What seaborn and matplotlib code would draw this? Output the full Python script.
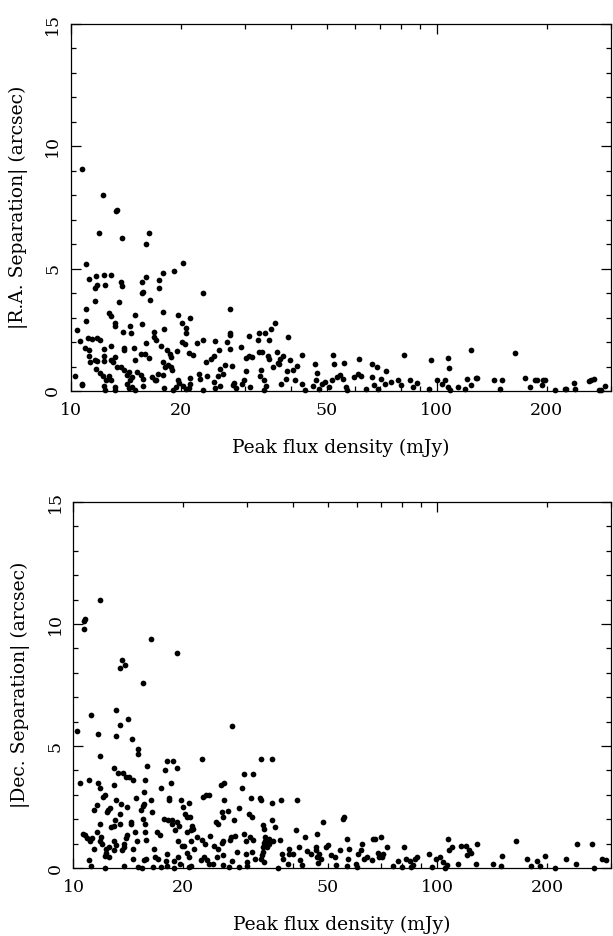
import matplotlib
matplotlib.use("Agg")
import matplotlib.pyplot as plt
import seaborn as sns
import pandas as pd
from matplotlib.ticker import FixedLocator, FuncFormatter

# |R.A. separation| vs peak flux (top panel)
ra_flux = [10.74, 12.2, 13.4, 13.3, 11.9, 13.8, 16.3, 16.0, 20.2, 11.0, 11.2, 11.7, 12.3, 12.9, 11.8, 11.65,
           12.4, 13.7, 13.8, 16.0, 15.6, 15.6, 15.7, 16.4, 17.4, 17.4, 17.9, 19.1, 11.6, 13.5, 22.9, 17.8,
           11.0, 12.7, 12.9, 13.2, 13.2, 15.0, 19.6, 21.2, 27.3, 11.0, 10.4, 15.65, 14.5, 13.9, 14.6, 16.9,
           18.0, 20.7, 20.1, 20.6, 20.5, 20.1, 16.9, 17.1, 16.0, 23.0, 24.7, 22.1, 26.8, 27.2, 27.2, 32.4,
           32.6, 33.9, 34.9, 35.3, 36.1, 39.2, 30.7, 10.6, 11.1, 11.45, 11.8, 12.0, 10.9, 11.2, 12.3, 12.9,
           14.0, 14.0, 14.9, 15.5, 15.9, 16.3, 17.6, 18.3, 18.6, 18.8, 19.5, 21.0, 21.5, 23.4, 24.1, 24.6,
           25.4, 27.2, 29.1, 30.1, 30.7, 31.3, 32.6, 33.3, 34.9, 34.6, 36.5, 37.2, 37.9, 36.8, 39.8, 42.8,
           52.2, 61.2, 55.8, 66.5, 81.5, 96.5, 108.0, 124.0, 163.7, 68.7, 72.9, 52.5, 46.4, 47.2, 41.6, 40.5,
           38.9, 37.1, 38.8, 35.8, 33.0, 32.8, 33.7, 30.1, 29.8, 29.4, 28.0, 27.6, 26.3, 25.6, 25.3, 26.0,
           24.6, 23.6, 22.6, 22.4, 21.2, 21.1, 21.0, 20.3, 19.7, 19.6, 18.9, 18.8, 18.4, 17.9, 18.1, 17.8,
           17.3, 17.0, 16.7, 15.7, 15.5, 15.2, 15.0, 14.7, 14.5, 14.2, 14.4, 13.95, 13.7, 13.4, 13.0, 13.2,
           12.9, 12.3, 12.3, 11.8, 11.7, 12.0, 12.2, 12.5, 12.7, 12.9, 11.2, 11.25, 11.65, 10.25, 10.7, 10.75,
           12.3, 12.4, 13.2, 13.2, 14.2, 14.4, 14.7, 15.0, 15.7, 17.1, 18.0, 19.0, 19.4, 20.6, 23.0, 24.7,
           25.6, 27.7, 28.3, 30.9, 33.7, 34.1, 37.6, 41.1, 42.8, 43.8, 45.8, 46.8, 47.6, 48.5, 49.4, 50.7,
           51.9, 53.3, 54.3, 55.6, 56.6, 57.0, 59.4, 60.9, 62.1, 64.2, 67.4, 66.5, 69.3, 70.6, 72.3, 75.1,
           78.4, 79.8, 84.8, 86.0, 88.3, 95.2, 100.5, 103.5, 105.5, 107.4, 108.7, 114.2, 119.3, 121.3, 124.4, 129.1,
           143.5, 149.3, 150.8, 174.3, 179.8, 187.8, 194.2, 197.8, 210.3, 225.6, 238.0, 239.1, 264.2, 269.6, 282.5, 289.5,
           107.4, 128.0, 186.0, 195.0, 224.0, 261.0, 278.0]
ra_sep = [9.06, 8.02, 7.40, 7.35, 6.44, 6.24, 6.44, 6.0, 5.21, 5.19, 4.56, 4.69, 4.72, 4.72, 4.33, 4.22,
          4.33, 4.46, 4.29, 4.67, 4.45, 3.99, 4.05, 3.71, 4.53, 4.20, 4.83, 4.91, 3.67, 3.63, 3.99, 3.23,
          3.33, 3.19, 3.06, 2.78, 2.65, 3.10, 3.10, 2.99, 3.33, 2.87, 2.51, 2.73, 2.65, 2.42, 2.37, 2.42,
          2.55, 2.59, 2.78, 2.37, 1.94, 2.01, 2.21, 2.07, 1.97, 2.07, 2.05, 1.97, 2.01, 2.28, 2.35, 2.07,
          2.37, 2.35, 2.07, 2.54, 2.76, 2.21, 2.24, 2.03, 2.18, 2.14, 2.18, 2.07, 1.77, 1.67, 1.73, 1.83,
          1.76, 1.67, 1.77, 1.53, 1.50, 1.36, 1.83, 1.67, 1.53, 1.39, 1.64, 1.56, 1.46, 1.19, 1.32, 1.42,
          1.69, 1.73, 1.80, 1.36, 1.42, 1.39, 1.60, 1.60, 1.32, 1.42, 1.60, 1.32, 1.42, 1.15, 1.28, 1.46,
          1.46, 1.32, 1.15, 1.09, 1.46, 1.28, 0.93, 1.69, 1.56, 0.96, 0.82, 1.12, 1.12, 0.74, 1.01, 0.87,
          0.82, 1.12, 0.50, 0.98, 0.85, 0.60, 0.44, 0.82, 0.44, 0.30, 0.33, 1.01, 1.05, 0.91, 0.60, 0.71,
          0.37, 0.60, 0.50, 0.71, 0.55, 0.30, 0.14, 0.19, 0.33, 0.44, 0.85, 0.98, 1.05, 1.19, 0.98, 0.64,
          0.71, 0.44, 0.57, 0.50, 0.64, 0.78, 1.26, 0.57, 0.44, 0.64, 0.78, 0.85, 0.98, 0.98, 1.19, 1.39,
          1.28, 1.23, 1.42, 1.23, 0.91, 0.74, 0.60, 0.44, 0.60, 0.44, 1.42, 1.19, 1.28, 0.60, 0.30, 0.23,
          0.19, 0.03, 0.16, 0.05, 0.30, 0.14, 0.16, 0.05, 0.19, 0.44, 0.14, 0.05, 0.16, 0.10, 0.05, 0.14,
          0.19, 0.23, 0.14, 0.16, 0.05, 0.19, 0.30, 0.44, 0.30, 0.05, 0.19, 0.44, 0.10, 0.27, 0.37, 0.16,
          0.44, 0.57, 0.64, 0.50, 0.16, 0.05, 0.57, 0.71, 0.60, 0.10, 0.23, 0.57, 0.10, 0.50, 0.30, 0.37,
          0.46, 0.23, 0.44, 0.16, 0.33, 0.10, 0.44, 0.30, 0.44, 0.16, 0.05, 0.16, 0.10, 0.50, 0.23, 0.55,
          0.44, 0.10, 0.44, 0.55, 0.16, 0.44, 0.23, 0.44, 0.05, 0.10, 0.33, 0.10, 0.44, 0.50, 0.03, 0.19,
          1.34, 0.52, 0.45, 0.45, 0.10, 0.40, 0.04]

# |Dec. separation| vs peak flux (bottom panel)
dec_flux = [10.2, 10.45, 10.7, 10.77, 10.7, 11.86, 11.2, 11.7, 11.8, 11.0, 11.65, 11.85, 12.06, 12.2, 11.6, 11.4,
            12.45, 12.35, 12.6, 11.8, 11.6, 11.9, 11.85, 12.0, 10.6, 10.77, 10.9, 11.1, 11.25, 11.4, 11.0, 11.2,
            12.2, 12.3, 12.25, 12.2, 12.5, 12.55, 12.7, 12.95, 12.95, 12.95, 13.1, 13.0, 13.1, 13.1, 12.95, 12.95,
            13.25, 13.4, 13.1, 13.4, 13.6, 13.85, 13.45, 14.1, 13.7, 13.9, 14.2, 14.55, 14.45, 15.0, 15.0, 14.85,
            13.5, 14.0, 13.4, 14.35, 14.4, 13.75, 13.8, 13.6, 14.05, 13.9, 14.55, 14.6, 14.8, 14.9, 15.3, 15.5,
            15.6, 15.5, 15.6, 15.7, 15.9, 16.3, 15.55, 15.7, 15.75, 15.85, 15.8, 15.6, 15.4, 15.0, 13.8, 16.35,
            16.4, 16.6, 16.8, 16.5, 17.0, 17.3, 17.4, 17.45, 17.1, 17.8, 18.1, 18.75, 18.5, 18.3, 18.3, 17.75,
            18.2, 18.6, 18.7, 18.1, 17.9, 18.05, 18.9, 18.9, 19.2, 19.3, 19.0, 19.3, 19.5, 19.4, 19.4, 19.6,
            19.8, 20.05, 20.3, 19.85, 20.1, 20.55, 20.5, 20.8, 20.9, 21.0, 21.1, 21.2, 21.35, 21.5, 20.5, 20.75,
            20.8, 21.1, 21.9, 22.6, 22.7, 23.1, 23.5, 22.6, 23.0, 23.3, 22.4, 22.8, 23.5, 24.1, 23.7, 24.3,
            24.6, 24.9, 24.9, 24.75, 25.4, 26.0, 26.0, 25.6, 25.8, 25.7, 25.6, 25.7, 25.8, 26.6, 26.8, 26.95,
            27.1, 27.2, 27.3, 27.6, 27.8, 28.1, 28.5, 28.5, 29.0, 29.5, 29.4, 29.8, 29.8, 30.0, 30.0, 30.4,
            30.8, 30.9, 30.5, 31.1, 31.0, 31.1, 31.5, 32.5, 32.8, 32.8, 33.1, 33.4, 33.6, 33.7, 33.4, 33.1,
            33.2, 33.0, 32.8, 33.4, 34.1, 34.4, 34.5, 35.1, 35.1, 35.2, 35.4, 35.8, 36.5, 37.0, 37.2, 37.4,
            37.6, 38.9, 39.0, 39.2, 40.0, 41.1, 40.9, 41.6, 41.9, 42.4, 43.2, 43.9, 44.9, 46.7, 46.5, 46.3,
            46.7, 47.3, 47.0, 47.9, 48.6, 49.5, 49.9, 51.0, 52.2, 52.8, 54.1, 55.0, 55.3, 56.4, 56.4, 57.2,
            56.9, 59.9, 60.3, 60.7, 61.5, 62.2, 62.7, 64.0, 66.0, 66.6, 67.3, 68.6, 69.0, 69.9, 70.4, 71.1,
            72.9, 75.3, 77.8, 80.0, 81.0, 81.9, 84.0, 84.9, 85.6, 86.6, 87.7, 95.0, 96.9, 99.3, 101.7, 103.5,
            104.7, 106.0, 106.8, 107.3, 109.4, 114.1, 116.3, 119.7, 120.6, 121.8, 124.1, 127.8, 128.8, 141.9, 149.5, 150.1,
            164.4, 176.6, 180.7, 187.3, 192.0, 197.7, 210.4, 225.4, 239.9, 241.6, 265.4, 270.0, 282.7, 290.8]
dec_sep = [5.60, 3.50, 10.12, 10.19, 9.80, 11.0, 6.28, 5.49, 4.59, 3.59, 3.50, 3.29, 2.91, 2.98, 2.60, 2.39,
           2.36, 2.30, 2.46, 1.79, 1.48, 1.27, 1.11, 0.97, 1.41, 1.34, 1.24, 1.11, 1.22, 0.79, 0.31, 0.07,
           0.0, 0.79, 0.61, 0.48, 0.45, 0.86, 1.68, 1.71, 1.11, 0.72, 0.93, 1.95, 6.49, 5.40, 4.10, 3.40,
           3.89, 2.20, 2.77, 8.21, 8.51, 8.31, 5.87, 6.09, 3.89, 3.73, 3.73, 3.59, 5.30, 4.89, 4.69, 2.87,
           2.61, 2.50, 1.82, 1.89, 1.82, 1.0, 0.86, 0.72, 1.34, 1.24, 0.79, 0.38, 1.48, 1.11, 2.39, 2.53,
           2.64, 7.60, 3.11, 3.59, 4.18, 9.40, 2.02, 1.48, 1.82, 1.13, 0.38, 0.31, 0.0, 0.04, 0.07, 2.77,
           2.30, 0.79, 0.45, 0.04, 1.48, 1.34, 3.29, 0.04, 0.38, 4.00, 4.39, 4.39, 3.50, 2.88, 2.77, 2.02,
           1.95, 1.95, 1.79, 0.59, 0.29, 0.07, 0.29, 0.0, 8.81, 4.10, 1.54, 1.89, 1.71, 1.11, 0.45, 0.18,
           2.80, 2.50, 2.20, 0.89, 0.89, 2.09, 1.48, 2.68, 2.09, 1.11, 1.54, 1.71, 1.61, 0.79, 0.61, 0.45,
           0.04, 0.07, 1.27, 4.48, 2.91, 2.98, 2.98, 1.13, 0.97, 0.31, 0.31, 0.45, 0.18, 0.18, 1.30, 0.89,
           1.89, 1.79, 0.79, 0.45, 3.39, 3.50, 2.80, 2.30, 2.09, 1.11, 1.02, 0.52, 0.11, 2.34, 0.04, 1.16,
           1.27, 5.81, 0.29, 1.98, 1.30, 0.66, 2.47, 0.04, 3.29, 3.87, 1.41, 1.11, 0.59, 0.07, 0.25, 2.23,
           2.88, 2.09, 1.27, 3.87, 0.66, 1.13, 0.38, 2.88, 4.48, 2.80, 1.75, 1.61, 1.27, 1.11, 1.02, 0.86,
           0.66, 0.52, 0.38, 0.25, 0.86, 1.20, 1.0, 4.48, 2.68, 1.98, 1.11, 1.68, 0.01, 1.16, 2.77, 0.59,
           0.38, 0.18, 0.59, 0.79, 0.59, 2.77, 1.57, 0.86, 0.31, 0.11, 1.27, 0.70, 0.59, 1.38, 0.86, 0.72,
           0.45, 0.59, 0.20, 0.38, 1.89, 0.86, 0.93, 0.52, 0.45, 0.11, 0.72, 2.02, 2.09, 0.07, 1.20, 0.79,
           0.38, 0.18, 0.04, 0.59, 0.72, 1.0, 0.38, 0.45, 0.34, 1.20, 1.20, 0.61, 0.45, 1.27, 0.45, 0.59,
           0.86, 0.07, 0.29, 0.04, 0.86, 0.38, 0.29, 0.04, 0.11, 0.38, 0.45, 0.59, 0.04, 0.38, 0.45, 0.25,
           0.0, 0.11, 1.20, 0.72, 0.86, 0.15, 0.89, 0.89, 0.52, 0.72, 0.61, 0.18, 1.0, 0.18, 0.07, 0.48,
           1.11, 0.38, 0.07, 0.29, 0.07, 0.48, 0.0, 0.38, 0.18, 1.0, 1.0, 0.0, 0.38, 0.31]

xlabel_text = "Peak flux density (mJy)"
ylabels = ["|R.A. Separation| (arcsec)", "|Dec. Separation| (arcsec)"]
x_labelled = [10, 20, 50, 100, 200]

sns.set_theme(style="ticks")
plt.rcParams['font.family'] = ['DejaVu Serif']
plt.rcParams['text.color'] = 'black'
plt.rcParams['axes.labelcolor'] = 'black'
plt.rcParams['xtick.color'] = 'black'
plt.rcParams['ytick.color'] = 'black'

fig = plt.figure(figsize=(6.13, 9.36), dpi=100)
ax_top = fig.add_axes([0.1158, 0.5823, 0.8809, 0.3921])
ax_bot = fig.add_axes([0.1199, 0.0726, 0.8768, 0.3910])

panels = [(ax_top, ra_flux, ra_sep, ylabels[0]), (ax_bot, dec_flux, dec_sep, ylabels[1])]
for ax, fx, sep, ylab in panels:
    df = pd.DataFrame({"flux": fx, "sep": sep})
    sns.scatterplot(data=df, x="flux", y="sep", ax=ax, color="black", s=17, linewidth=0, clip_on=False)
    ax.set_xscale("log")
    ax.set_xlim(10, 300)
    ax.set_ylim(0, 15)

    # decade ticks long, the rest short; labels on 10,20,50,100,200
    ax.xaxis.set_major_locator(FixedLocator([10, 100]))
    ax.xaxis.set_minor_locator(FixedLocator([20, 30, 40, 50, 60, 70, 80, 90, 200, 300]))
    fmt = FuncFormatter(lambda v, p: f"{v:g}" if round(v) in x_labelled else "")
    ax.xaxis.set_major_formatter(fmt)
    ax.xaxis.set_minor_formatter(fmt)
    ax.yaxis.set_major_locator(FixedLocator([0, 5, 10, 15]))
    ax.yaxis.set_minor_locator(FixedLocator(list(range(16))))

    ax.tick_params(which="both", direction="in", top=True, right=True, color="black", width=0.9,
                   labelcolor="black")
    ax.tick_params(which="major", length=7)
    ax.tick_params(which="minor", length=3.5)
    ax.tick_params(axis="x", which="both", pad=8, labelsize=12.5)
    ax.tick_params(axis="y", which="both", pad=7, labelsize=12.5)
    for lab in ax.get_yticklabels():
        lab.set_rotation(90)
        lab.set_va("center")

    for sp in ax.spines.values():
        sp.set_color("black")
        sp.set_linewidth(0.9)

    ax.set_xlabel(xlabel_text, fontsize=13.5, labelpad=14, color="black")
    ax.set_ylabel(ylab, fontsize=13.5, labelpad=12, color="black")

fig.savefig("out.png", dpi=100)
